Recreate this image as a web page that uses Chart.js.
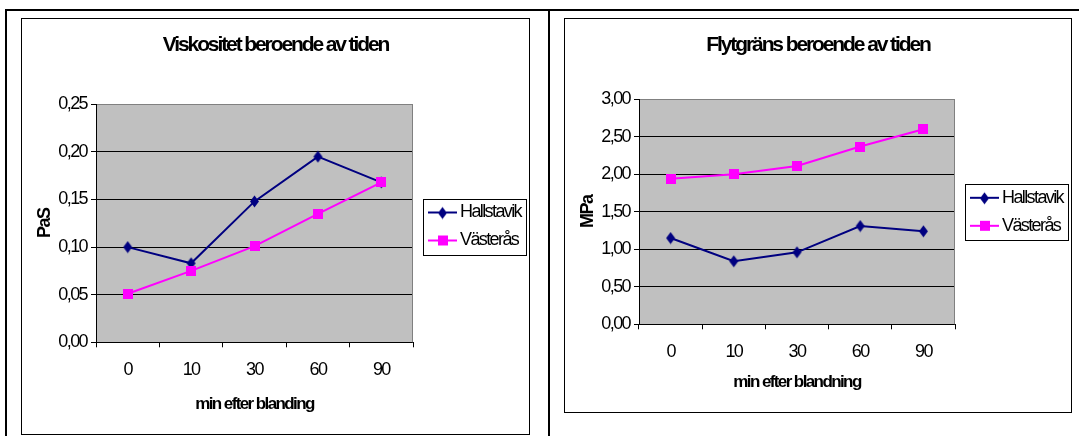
<!DOCTYPE html>
<html lang="sv">
<head>
<meta charset="utf-8">
<title>Viskositet och flytgräns beroende av tiden</title>
<script src="https://cdn.jsdelivr.net/npm/chart.js@4.4.1/dist/chart.umd.min.js"></script>
<style>
  html, body { margin: 0; padding: 0; background: #fff; }
  body { position: relative; width: 1079px; height: 436px; overflow: hidden; }
  .rule { position: absolute; background: #000; }
  canvas { position: absolute; }
</style>
</head>
<body>
<div class="rule" style="left:5px;top:9px;width:1074px;height:2px"></div>
<div class="rule" style="left:5px;top:9px;width:2px;height:427px"></div>
<div class="rule" style="left:548px;top:9px;width:2px;height:427px"></div>
<canvas id="visc" width="509" height="417" style="left:21px;top:18px"></canvas>
<canvas id="yield" width="508" height="395" style="left:564px;top:18px"></canvas>
<script>
// Minutes after mixing
const categories = ['0', '10', '30', '60', '90'];
const seriesNames = ['Hallstavik', 'Västerås'];

// Viscosity (PaS)
const viscHallstavik = [0.100, 0.083, 0.148, 0.195, 0.168];
const viscVasteras   = [0.051, 0.075, 0.101, 0.135, 0.168];
const viscTicks      = [0, 0.05, 0.10, 0.15, 0.20, 0.25];

// Yield stress (MPa)
const yieldHallstavik = [1.15, 0.84, 0.96, 1.31, 1.24];
const yieldVasteras   = [1.94, 2.00, 2.11, 2.37, 2.60];
const yieldTicks      = [0, 0.5, 1.0, 1.5, 2.0, 2.5, 3.0];

const NAVY = '#000080';
const MAGENTA = '#FF00FF';
const PLOT_BG = '#C0C0C0';
const PLOT_EDGE = '#808080';
const TEXT_SPACING = '-1.6px';
const TITLE_SPACING = '-2.1px';

Chart.defaults.font.family = '"Liberation Sans", Arial, Helvetica, sans-serif';
Chart.defaults.color = '#000';

// Marker sprites
function makeDiamond(color) {
  const c = document.createElement('canvas');
  c.width = 11; c.height = 13;
  const g = c.getContext('2d');
  g.fillStyle = color;
  g.beginPath();
  g.moveTo(5.5, 0.5); g.lineTo(10, 6.5); g.lineTo(5.5, 12.5); g.lineTo(1, 6.5);
  g.closePath();
  g.fill();
  return c;
}
function makeSquare(color) {
  const c = document.createElement('canvas');
  c.width = 10; c.height = 10;
  const g = c.getContext('2d');
  g.fillStyle = color;
  g.fillRect(0, 0, 10, 10);
  return c;
}
// Legend swatch: short line with the marker in the middle
function makeSwatch(color, marker) {
  const c = document.createElement('canvas');
  c.width = 40; c.height = 14;
  const g = c.getContext('2d');
  g.strokeStyle = color;
  g.lineWidth = 2;
  g.beginPath();
  g.moveTo(11, 7); g.lineTo(40, 7);
  g.stroke();
  g.drawImage(marker, Math.round(25.5 - marker.width / 2), Math.round(7 - marker.height / 2));
  return c;
}

const diamond = makeDiamond(NAVY);
const square = makeSquare(MAGENTA);
const swatches = [makeSwatch(NAVY, diamond), makeSwatch(MAGENTA, square)];

// White card with a thin frame, grey plot area, boxed legend, condensed lettering
const chartFrame = {
  id: 'chartFrame',
  beforeUpdate(chart) {
    chart.ctx.letterSpacing = TEXT_SPACING;
  },
  beforeDraw(chart) {
    const { ctx, width, height, chartArea: a } = chart;
    const tb = chart.titleBlock;
    if (tb && !tb._tightDraw) {
      const draw = tb.draw.bind(tb);
      tb._tightDraw = true;
      tb.draw = function () {
        const prev = this.ctx.letterSpacing;
        this.ctx.letterSpacing = TITLE_SPACING;
        draw();
        this.ctx.letterSpacing = prev;
      };
    }
    ctx.save();
    ctx.fillStyle = '#fff';
    ctx.fillRect(0, 0, width, height);
    ctx.strokeStyle = '#000';
    ctx.lineWidth = 1;
    ctx.strokeRect(0.5, 0.5, width - 1, height - 1);
    ctx.fillStyle = PLOT_BG;
    ctx.fillRect(a.left, a.top, a.right - a.left, a.bottom - a.top);
    ctx.restore();
    ctx.letterSpacing = TEXT_SPACING;
  },
  beforeDatasetsDraw(chart) {
    const { ctx, chartArea: a } = chart;
    ctx.save();
    ctx.strokeStyle = PLOT_EDGE;
    ctx.lineWidth = 1;
    ctx.beginPath();
    const x = Math.round(a.right) - 0.5;
    ctx.moveTo(x, a.top);
    ctx.lineTo(x, a.bottom);
    ctx.stroke();
    ctx.restore();
  },
  afterDraw(chart) {
    const hb = chart.legend && chart.legend.legendHitBoxes;
    if (!hb || !hb.length) return;
    const { ctx } = chart;
    const last = hb[hb.length - 1];
    const left = Math.round(hb[0].left) + 0.5;
    const right = Math.round(Math.max(...hb.map(h => h.left + h.width)) + 5) + 0.5;
    const top = Math.round(hb[0].top - 5) + 0.5;
    const bottom = Math.round(last.top + last.height + 5) + 0.5;
    ctx.save();
    ctx.strokeStyle = '#000';
    ctx.lineWidth = 1;
    ctx.strokeRect(left, top, right - left, bottom - top);
    ctx.restore();
  }
};

function buildChart(id, cfg) {
  const topIndex = cfg.ticks.length - 1;
  const chart = new Chart(document.getElementById(id), {
    type: 'line',
    data: {
      labels: categories,
      datasets: [
        {
          label: seriesNames[0], data: cfg.hallstavik,
          borderColor: NAVY, backgroundColor: NAVY, borderWidth: 2,
          pointStyle: diamond, pointRadius: 5, tension: 0, order: 1
        },
        {
          label: seriesNames[1], data: cfg.vasteras,
          borderColor: MAGENTA, backgroundColor: MAGENTA, borderWidth: 2,
          pointStyle: square, pointRadius: 5, tension: 0, order: 0
        }
      ]
    },
    options: {
      responsive: false,
      animation: false,
      devicePixelRatio: 1,
      layout: { padding: 0 },
      plugins: {
        title: {
          display: true, text: cfg.title, color: '#000',
          font: { size: 21, weight: 'bold' },
          padding: { top: 14.4, bottom: cfg.titleGap }
        },
        legend: {
          position: 'right', align: 'center', fullSize: cfg.legendFull, maxWidth: 117,
          labels: {
            usePointStyle: true, pointStyleWidth: 28, padding: 10,
            color: '#000', font: { size: 18 },
            sort: (a, b) => a.datasetIndex - b.datasetIndex,
            generateLabels(ch) {
              const items = Chart.defaults.plugins.legend.labels.generateLabels(ch);
              items.forEach(it => { it.pointStyle = swatches[it.datasetIndex]; });
              return items;
            }
          }
        },
        tooltip: { enabled: false }
      },
      scales: {
        x: {
          type: 'category', offset: true,
          grid: { offset: true, drawOnChartArea: false, drawTicks: true, tickLength: 5, tickColor: '#000' },
          border: { color: '#000', width: 1 },
          ticks: { font: { size: 18 }, color: '#000', padding: 11.8, maxRotation: 0, autoSkip: false },
          title: {
            display: true, text: cfg.xTitle, color: '#000',
            font: { size: 17, weight: 'bold' }, padding: { top: 0, bottom: 20 }
          },
          afterFit(scale) { scale.height = cfg.xAxisHeight; }
        },
        y: {
          min: 0, max: cfg.ticks[topIndex],
          afterBuildTicks(scale) { scale.ticks = cfg.ticks.map(v => ({ value: v })); },
          grid: {
            color: c => (c.index === topIndex ? PLOT_EDGE : '#000'),
            lineWidth: 1, tickLength: 5, tickColor: '#000'
          },
          border: { color: '#000', width: 1 },
          ticks: {
            font: { size: 18 }, color: '#000', padding: 4,
            callback: v => Number(v).toFixed(2).replace('.', ',')
          },
          title: {
            display: true, text: cfg.unit, color: '#000',
            font: { size: 18, weight: 'bold' }, padding: { top: 13, bottom: 0 }
          },
          afterFit(scale) { scale.width = 75; }
        }
      }
    },
    plugins: [chartFrame]
  });
  chart.draw();
  return chart;
}

buildChart('visc', {
  title: 'Viskositet beroende av tiden',
  unit: 'PaS',
  xTitle: 'min efter blanding',
  hallstavik: viscHallstavik,
  vasteras: viscVasteras,
  ticks: viscTicks,
  titleGap: 46.7,
  xAxisHeight: 92.7,
  legendFull: true
});

buildChart('yield', {
  title: 'Flytgräns beroende av tiden',
  unit: 'MPa',
  xTitle: 'min efter blandning',
  hallstavik: yieldHallstavik,
  vasteras: yieldVasteras,
  ticks: yieldTicks,
  titleGap: 41.7,
  xAxisHeight: 88.7,
  legendFull: false
});
</script>
</body>
</html>
